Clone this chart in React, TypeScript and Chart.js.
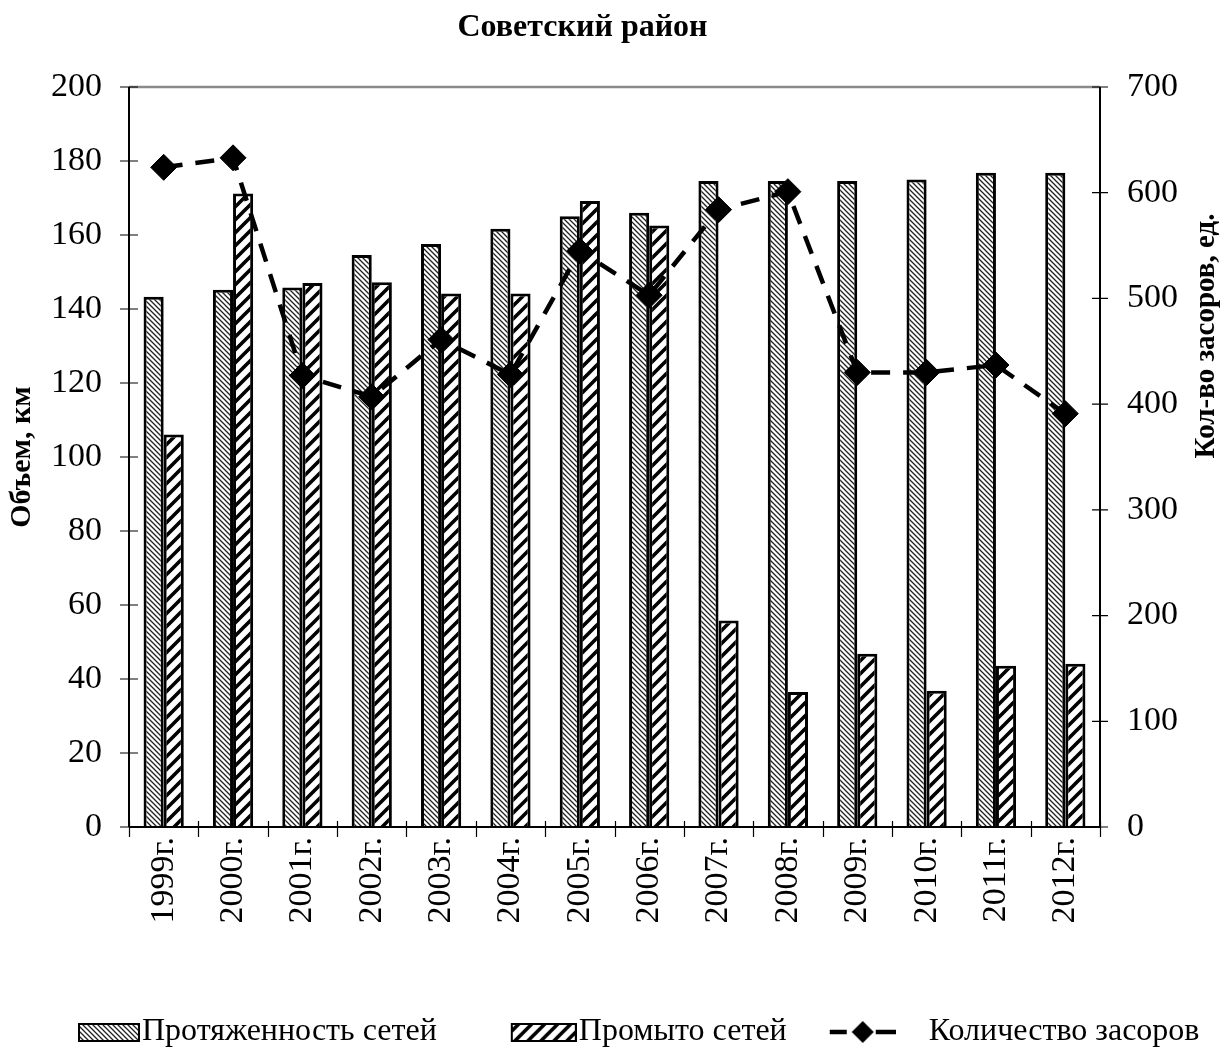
import React, { useEffect, useRef } from "react";
import { Chart, registerables } from "chart.js";

Chart.register(...registerables);

const years = ["1999г.", "2000г.", "2001г.", "2002г.", "2003г.", "2004г.", "2005г.", "2006г.", "2007г.", "2008г.", "2009г.", "2010г.", "2011г.", "2012г."];
const networkLength = [143.3, 145.2, 145.8, 154.6, 157.6, 161.7, 165.1, 166, 174.6, 174.6, 174.6, 175, 176.8, 176.8];
const flushed = [106.1, 171.2, 147, 147.2, 144.2, 144.2, 169.2, 162.6, 55.8, 36.5, 46.8, 36.8, 43.6, 44.1];
const blockages = [624, 633, 427, 407, 461, 428, 545, 503, 584, 601, 430, 430, 437, 391];

const leftTicks = { min: 0, max: 200, step: 20 };
const rightTicks = { min: 0, max: 700, step: 100 };

const TITLE = "Советский район";
const FONT = "'Liberation Serif', 'Times New Roman', serif";
const TICK_SIZE = 34;
const LEGEND_SIZE = 32;
const P = 118; // legend point-style slot width

function fineHatch(ctx: CanvasRenderingContext2D): CanvasPattern {
  const s = 5;
  const c = document.createElement("canvas");
  c.width = s; c.height = s;
  const g = c.getContext("2d")!;
  g.fillStyle = "#fff"; g.fillRect(0, 0, s, s);
  g.strokeStyle = "#222"; g.lineWidth = 1.3;
  g.beginPath();
  g.moveTo(-1, -1); g.lineTo(s + 1, s + 1);
  g.moveTo(s - 1, -1); g.lineTo(s + 1, 1);
  g.moveTo(-1, s - 1); g.lineTo(1, s + 1);
  g.stroke();
  return ctx.createPattern(c, "repeat")!;
}

function wideHatch(ctx: CanvasRenderingContext2D): CanvasPattern {
  const s = 13;
  const c = document.createElement("canvas");
  c.width = s; c.height = s;
  const g = c.getContext("2d")!;
  g.fillStyle = "#fff"; g.fillRect(0, 0, s, s);
  g.strokeStyle = "#000"; g.lineWidth = 3.6;
  g.beginPath();
  g.moveTo(-3, s + 3); g.lineTo(s + 3, -3);
  g.moveTo(-3, 3); g.lineTo(3, -3);
  g.moveTo(s - 3, s + 3); g.lineTo(s + 3, s - 3);
  g.stroke();
  return ctx.createPattern(c, "repeat")!;
}

// Legend icon canvases: centred at slot centre (P/2); text starts at P + fontSize/2.
function boxIcon(pattern: CanvasPattern, boxW: number): HTMLCanvasElement {
  const textX = P + LEGEND_SIZE / 2;
  const right = textX - 2;
  const total = Math.ceil(2 * (right - P / 2));
  const c = document.createElement("canvas");
  c.width = total; c.height = 22;
  const g = c.getContext("2d")!;
  const x0 = total - boxW;
  g.fillStyle = pattern;
  g.fillRect(x0 + 1, 3, boxW - 2, 17);
  g.strokeStyle = "#000"; g.lineWidth = 2;
  g.strokeRect(x0 + 1, 3, boxW - 2, 17);
  return c;
}

function lineIcon(iconW: number, gap: number): HTMLCanvasElement {
  const textX = P + LEGEND_SIZE / 2;
  const right = textX - gap;
  const total = Math.ceil(2 * (right - P / 2));
  const c = document.createElement("canvas");
  c.width = total; c.height = 26;
  const g = c.getContext("2d")!;
  const x0 = total - iconW;
  g.strokeStyle = "#000"; g.lineWidth = 4.5;
  g.beginPath();
  g.moveTo(x0, 13); g.lineTo(x0 + 17, 13);
  g.moveTo(x0 + iconW - 20, 13); g.lineTo(x0 + iconW, 13);
  g.stroke();
  const cx = x0 + iconW / 2, cy = 13, r = 11;
  g.fillStyle = "#000";
  g.beginPath();
  g.moveTo(cx, cy - r); g.lineTo(cx + r, cy); g.lineTo(cx, cy + r); g.lineTo(cx - r, cy);
  g.closePath(); g.fill();
  return c;
}

const decorPlugin = {
  id: "decor",
  afterDraw(chart: any) {
    const { ctx, chartArea: a, scales } = chart;
    ctx.save();
    ctx.strokeStyle = "#8a8a8a";
    ctx.lineWidth = 2.5;
    ctx.beginPath(); ctx.moveTo(a.left, a.top); ctx.lineTo(a.right, a.top); ctx.stroke();
    ctx.strokeStyle = "#000";
    ctx.lineWidth = 1.2;
    ctx.beginPath();
    const y = scales.y;
    y.ticks.forEach((_: any, i: number) => {
      const p = y.getPixelForTick(i);
      ctx.moveTo(a.left - 9, p); ctx.lineTo(a.left + 9, p);
    });
    const y1 = scales.y1;
    y1.ticks.forEach((_: any, i: number) => {
      const p = y1.getPixelForTick(i);
      ctx.moveTo(a.right - 8, p); ctx.lineTo(a.right + 8, p);
    });
    const x = scales.x;
    for (let i = 0; i <= years.length; i++) {
      const p = Math.round(x.getPixelForValue(i - 0.5)) + 0.5;
      ctx.moveTo(p, a.bottom - 6); ctx.lineTo(p, a.bottom + 10);
    }
    ctx.stroke();
    ctx.lineWidth = 2;
    ctx.beginPath();
    ctx.moveTo(a.left, a.top); ctx.lineTo(a.left, a.bottom);
    ctx.moveTo(a.right, a.top); ctx.lineTo(a.right, a.bottom);
    ctx.moveTo(a.left, a.bottom); ctx.lineTo(a.right, a.bottom);
    ctx.stroke();
    ctx.fillStyle = "#000";
    // chart title, slightly left of centre as in the original
    ctx.font = `bold 32px ${FONT}`;
    ctx.textAlign = "center";
    ctx.textBaseline = "middle";
    ctx.fillText(TITLE, chart.width / 2 - 30, 28);
    // right axis title (reads bottom-to-top)
    ctx.translate(1207, 336);
    ctx.rotate(-Math.PI / 2);
    ctx.font = `bold 29px ${FONT}`;
    ctx.fillText("Кол-во засоров, ед.", 0, 0);
    ctx.restore();
  },
};

export default function App() {
  const ref = useRef<HTMLCanvasElement>(null);
  useEffect(() => {
    const canvas = ref.current!;
    const ctx = canvas.getContext("2d")!;
    const p1 = fineHatch(ctx);
    const p2 = wideHatch(ctx);
    const icon1 = boxIcon(p1, 62);
    const icon2 = boxIcon(p2, 66);
    const icon3 = lineIcon(66, 33);

    const chart = new Chart(canvas, {
      type: "bar",
      data: {
        labels: years,
        datasets: [
          {
            type: "bar",
            label: "Протяженность сетей",
            data: networkLength,
            backgroundColor: p1 as any,
            borderColor: "#000",
            borderWidth: 3,
            yAxisID: "y",
            order: 2,
            barPercentage: 1,
            categoryPercentage: 0.58,
          },
          {
            type: "bar",
            label: "Промыто сетей",
            data: flushed,
            backgroundColor: p2 as any,
            borderColor: "#000",
            borderWidth: 3,
            yAxisID: "y",
            order: 2,
            barPercentage: 1,
            categoryPercentage: 0.58,
          },
          {
            type: "line",
            label: "Количество засоров",
            data: blockages,
            borderColor: "#000",
            backgroundColor: "#000",
            borderWidth: 4.5,
            borderDash: [19, 13],
            pointStyle: "rectRot",
            pointRadius: 13,
            pointBackgroundColor: "#000",
            pointBorderColor: "#000",
            pointBorderWidth: 1,
            yAxisID: "y1",
            order: 0,
            tension: 0,
          } as any,
        ],
      },
      options: {
        responsive: false,
        animation: false,
        devicePixelRatio: 1,
        layout: { padding: { top: 0, left: 0, right: 0, bottom: -6 } },
        plugins: {
          tooltip: { enabled: false },
          title: {
            display: true,
            text: TITLE,
            color: "rgba(0,0,0,0)",
            font: { family: FONT, size: 32, weight: "bold" },
            padding: { top: 8, bottom: 40.6 },
          },
          legend: {
            position: "bottom",
            align: "start",
            labels: {
              usePointStyle: true,
              pointStyleWidth: P,
              padding: 8,
              color: "#000",
              font: { family: FONT, size: LEGEND_SIZE },
              generateLabels: () => [
                { text: "Протяженность сетей", pointStyle: icon1 as any, fillStyle: "#fff", strokeStyle: "#000", lineWidth: 0, hidden: false, datasetIndex: 0 },
                { text: "Промыто сетей", pointStyle: icon2 as any, fillStyle: "#fff", strokeStyle: "#000", lineWidth: 0, hidden: false, datasetIndex: 1 },
                { text: "Количество засоров", pointStyle: icon3 as any, fillStyle: "#fff", strokeStyle: "#000", lineWidth: 0, hidden: false, datasetIndex: 2 },
              ],
            },
          },
        },
        scales: {
          x: {
            grid: { display: false, drawTicks: false },
            border: { display: false },
            ticks: {
              color: "#000",
              font: { family: FONT, size: TICK_SIZE },
              minRotation: 90,
              maxRotation: 90,
              autoSkip: false,
              padding: 10,
            },
            afterFit: (s: any) => { s.height = 181; },
          },
          y: {
            position: "left",
            min: leftTicks.min,
            max: leftTicks.max,
            grid: { display: false, drawTicks: false },
            border: { display: false },
            ticks: {
              stepSize: leftTicks.step,
              color: "#000",
              font: { family: FONT, size: TICK_SIZE },
              padding: 27,
            },
            title: {
              display: true,
              text: "Объем, км",
              color: "#000",
              font: { family: FONT, size: 30, weight: "bold" },
              padding: { top: 4, bottom: 0 },
            },
            afterFit: (s: any) => { s.width = 129; },
          },
          y1: {
            position: "right",
            min: rightTicks.min,
            max: rightTicks.max,
            grid: { display: false, drawTicks: false },
            border: { display: false },
            ticks: {
              stepSize: rightTicks.step,
              color: "#000",
              font: { family: FONT, size: TICK_SIZE },
              padding: 27,
            },
            afterFit: (s: any) => { s.width = 125; },
          },
        },
      },
      plugins: [decorPlugin],
    } as any);
    return () => chart.destroy();
  }, []);

  return (
    <div style={{ position: "absolute", left: 0, top: 0, width: 1225, height: 1052, background: "#fff" }}>
      <canvas ref={ref} width={1225} height={1052} style={{ display: "block", width: 1225, height: 1052 }} />
    </div>
  );
}
